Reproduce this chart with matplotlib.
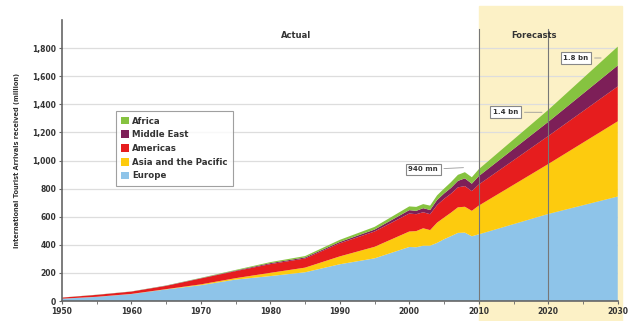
import matplotlib.pyplot as plt
from matplotlib.transforms import blended_transform_factory

# international tourist arrivals by region (million), stacked bottom->top
years = [1950, 1955, 1960, 1965, 1970, 1975, 1980, 1985, 1990, 1995,
         2000, 2001, 2002, 2003, 2004, 2005, 2006, 2007, 2008, 2009,
         2010, 2020, 2030]
europe = [17, 30, 50, 83, 113, 153, 178, 205, 262, 304,
          385, 383, 394, 394, 414, 440, 462, 485, 487, 461,
          475, 620, 744]
asia_pacific = [0.2, 0.6, 0.9, 2, 6, 10, 23, 33, 56, 82,
                110, 115, 124, 111, 144, 154, 167, 182, 184, 181,
                204, 355, 535]
americas = [7.5, 13.5, 16.7, 23, 42, 50, 62, 65, 93, 109,
            128, 120, 114, 113, 125, 133, 135, 142, 147, 140,
            150, 199, 248]
middle_east = [0.2, 0.6, 0.6, 2, 2, 4, 7, 7.5, 9.6, 13.7,
               24, 24, 29, 30, 36, 38, 41, 46, 55, 53,
               60, 101, 149]
africa = [0.5, 0.8, 0.8, 1.4, 2.4, 4.7, 7.2, 9.7, 15, 19,
          26.5, 28, 29, 31, 33, 35, 41, 43, 44, 46,
          49, 85, 134]
names = ["Europe", "Asia and the Pacific", "Americas", "Middle East", "Africa"]
colors = ["#8ec4e9", "#fdcb0e", "#e61d1e", "#7d1f58", "#86c340"]

fig = plt.figure(figsize=(6.31, 3.21), dpi=100)
ax = fig.add_axes([0.098, 0.062, 0.881, 0.876])

polys = ax.stackplot(years, europe, asia_pacific, americas, middle_east, africa,
                     colors=colors, labels=names, linewidth=0)

# forecast shading, runs past the axes top and bottom
tr = blended_transform_factory(ax.transData, ax.transAxes)
shade = plt.Rectangle((2010, -0.2), 20.6, 1.25, transform=tr, color="#fcf1c6",
                      zorder=0, clip_on=False)
ax.add_patch(shade)

for v in range(200, 2000, 200):
    ax.axhline(v, color="#dddddd", lw=0.9, zorder=0.5)
for x in (2010, 2020):
    ax.plot([x, x], [0, 1935], color="#777777", lw=0.8, zorder=3)

ax.set_xlim(1950, 2030)
ax.set_ylim(0, 2000)
ax.set_xticks(range(1950, 2031, 10))
ax.set_xticks(range(1955, 2030, 10), minor=True)
ax.set_yticks(range(0, 1801, 200))
ax.set_yticklabels([f"{v:,}" for v in range(0, 1801, 200)])
ax.tick_params(labelsize=5.5, length=2, color="#666666", width=0.8, pad=2)
ax.tick_params(which="minor", length=2, color="#666666")
for lab in ax.get_xticklabels() + ax.get_yticklabels():
    lab.set_fontweight("bold")
    lab.set_color("#333333")
for s in ("top", "right"):
    ax.spines[s].set_visible(False)
for s in ("left", "bottom"):
    ax.spines[s].set_color("#666666")
    ax.spines[s].set_linewidth(1.2)
ax.patch.set_alpha(0)

ax.set_ylabel("International Tourist Arrivals received (million)", fontsize=4.8,
              fontweight="bold", color="#333333", labelpad=9)

ax.text(1983.7, 1886, "Actual", fontsize=6, fontweight="bold", ha="center", va="center", color="#333333")
ax.text(2018, 1886, "Forecasts", fontsize=6, fontweight="bold", ha="center", va="center", color="#333333")

box = dict(boxstyle="square,pad=0.4", fc="white", ec="#888888", lw=0.8)
for txt, bx, by, px, py in [("940 mn", 2002, 936, 2008.2, 950),
                            ("1.4 bn", 2013.9, 1343, 2019.5, 1343),
                            ("1.8 bn", 2024, 1729, 2028, 1729)]:
    ax.annotate(txt, xy=(px, py), xytext=(bx, by), fontsize=5, fontweight="bold",
                ha="center", va="center", bbox=box, color="#333333", zorder=5,
                arrowprops=dict(arrowstyle="-", color="#999999", lw=0.6))

h, l = ax.get_legend_handles_labels()
leg = ax.legend(h[::-1], l[::-1], loc="upper left", bbox_to_anchor=(0.089, 0.69),
                frameon=True, fancybox=False, edgecolor="#888888",
                handlelength=1.0, handleheight=1.0, labelspacing=0.55, borderpad=0.6,
                handletextpad=0.3, prop={"weight": "bold", "size": 6.2})
leg.get_frame().set_linewidth(0.8)
for t in leg.get_texts():
    t.set_color("#333333")

fig.savefig("out.png", dpi=100)
